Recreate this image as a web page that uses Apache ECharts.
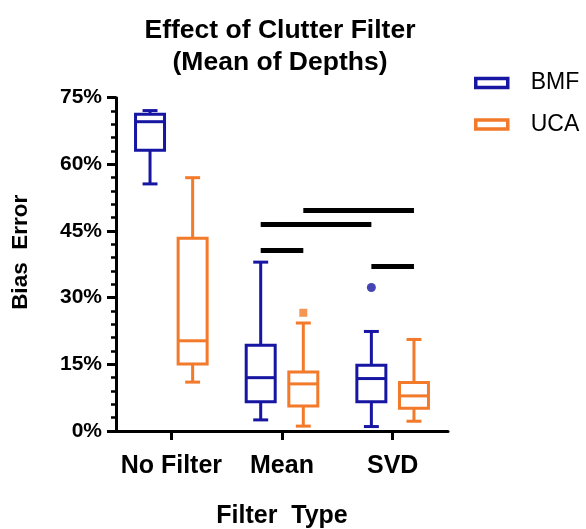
<!DOCTYPE html>
<html>
<head>
<meta charset="utf-8">
<script src="https://cdn.jsdelivr.net/npm/echarts@6/dist/echarts.min.js"></script>
<style>
  html, body { margin: 0; padding: 0; background: #fff; }
  #chart { width: 586px; height: 529px; }
</style>
</head>
<body>
<div id="chart"></div>
<script>
// data, values in %
var categories = ['No Filter', 'Mean', 'SVD'];
// [min, q1, median, q3, max] per category
var bmfBoxes = [[55.6, 63.2, 69.6, 71.3, 72.1], [2.5, 6.6, 12.0, 19.3, 38.0], [1.0, 6.6, 11.8, 14.8, 22.4]];
var ucaBoxes = [[11.0, 15.1, 20.3, 43.4, 57.0], [1.1, 5.6, 10.6, 13.3, 24.3], [2.2, 5.1, 7.9, 10.9, 20.6]];
// [category index, value]
var bmfOutliers = [[2, 32.3]];
var ucaOutliers = [[1, 26.6]];
// significance bars: [from category, from group, to category, to group, height]
var sigBars = [[1, 1, 2, 1, 49.6], [1, 0, 2, 0, 46.6], [1, 0, 1, 1, 40.6], [2, 0, 2, 1, 37.0]];
var yTicks = [0, 15, 30, 45, 60, 75];

var blue = '#1616a2';
var orange = '#f27a2a';
var groupOffset = [-0.1925, 0.1925];   // box centre offset, fraction of the band
var boxFrac = 0.262;
var capFrac = 0.135;

function boxData(boxes) {
  return boxes.map(function (b, i) { return [i].concat(b); });
}

function makeRender(group, color) {
  return function (params, api) {
    var cat = api.value(0);
    var band = api.size([1, 0])[0];
    var cx = api.coord([cat, 0])[0] + groupOffset[group] * band;
    var yMin = api.coord([cat, api.value(1)])[1];
    var yQ1 = api.coord([cat, api.value(2)])[1];
    var yMed = api.coord([cat, api.value(3)])[1];
    var yQ3 = api.coord([cat, api.value(4)])[1];
    var yMax = api.coord([cat, api.value(5)])[1];
    var hw = band * boxFrac / 2;
    var hc = band * capFrac / 2;
    var st = { stroke: color, lineWidth: 3, fill: null };
    return {
      type: 'group',
      children: [
        { type: 'rect', shape: { x: cx - hw, y: yQ3, width: hw * 2, height: yQ1 - yQ3 }, style: st },
        { type: 'line', shape: { x1: cx - hw, y1: yMed, x2: cx + hw, y2: yMed }, style: st },
        { type: 'line', shape: { x1: cx, y1: yQ3, x2: cx, y2: yMax }, style: st },
        { type: 'line', shape: { x1: cx, y1: yQ1, x2: cx, y2: yMin }, style: st },
        { type: 'line', shape: { x1: cx - hc, y1: yMax, x2: cx + hc, y2: yMax }, style: st },
        { type: 'line', shape: { x1: cx - hc, y1: yMin, x2: cx + hc, y2: yMin }, style: st }
      ]
    };
  };
}

function outlierData(list, group) {
  return list.map(function (o) { return [o[0] + 0.5 + groupOffset[group], o[1]]; });
}

var sigData = sigBars.map(function (s) {
  return { coords: [[s[0] + 0.5 + groupOffset[s[1]], s[4]], [s[2] + 0.5 + groupOffset[s[3]], s[4]]] };
});

var myChart = echarts.init(document.getElementById('chart'));
var option = {
  animation: false,
  title: {
    text: 'Effect of Clutter Filter\n(Mean of Depths)',
    left: 280,
    top: 15,
    padding: 0,
    textAlign: 'center',
    textStyle: {
      fontFamily: 'Liberation Sans',
      fontWeight: 'bold',
      fontSize: 26.5,
      lineHeight: 32,
      color: '#000'
    }
  },
  legend: {
    orient: 'vertical',
    left: 474,
    top: 71,
    padding: 0,
    itemWidth: 32,
    itemHeight: 9,
    itemGap: 17.5,
    selectedMode: false,
    textStyle: {
      fontFamily: 'Liberation Sans',
      fontSize: 23,
      lineHeight: 24,
      color: '#000',
      padding: [0, 0, 0, 18]
    },
    data: [
      { name: 'BMF', icon: 'rect', itemStyle: { color: 'rgba(0,0,0,0)', borderColor: blue, borderWidth: 3.5 } },
      { name: 'UCA', icon: 'rect', itemStyle: { color: 'rgba(0,0,0,0)', borderColor: orange, borderWidth: 3.5 } }
    ]
  },
  grid: { left: 116, right: 138, top: 97.7, bottom: 98, outerBoundsMode: 'none' },
  xAxis: [
    {
      type: 'category',
      data: categories,
      name: 'Filter  Type',
      nameLocation: 'middle',
      nameGap: 73,
      nameTextStyle: { fontFamily: 'Liberation Sans', fontWeight: 'bold', fontSize: 25, color: '#000' },
      axisLine: { lineStyle: { color: '#000', width: 3 } },
      axisTick: { show: true, alignWithLabel: true, interval: 0, length: 9, lineStyle: { color: '#000', width: 3 } },
      axisLabel: { interval: 0, hideOverlap: false, margin: 23, fontFamily: 'Liberation Sans', fontWeight: 'bold', fontSize: 25, color: '#000' },
      splitLine: { show: false }
    },
    { type: 'value', min: 0, max: 3, show: false }
  ],
  yAxis: {
    type: 'value',
    min: 0,
    max: 75,
    interval: 15,
    name: 'Bias  Error',
    nameLocation: 'middle',
    nameGap: 84,
    nameTextStyle: { fontFamily: 'Liberation Sans', fontWeight: 'bold', fontSize: 22.5, color: '#000', padding: [0, 0, 0, 24] },
    axisLine: { show: true, lineStyle: { color: '#000', width: 3 } },
    axisTick: { show: true, length: 9, lineStyle: { color: '#000', width: 3 } },
    minorTick: { show: true, splitNumber: 5, length: 5, lineStyle: { color: '#000', width: 2.5 } },
    axisLabel: {
      margin: 14,
      fontFamily: 'Liberation Sans',
      fontWeight: 'bold',
      fontSize: 21,
      color: '#000',
      formatter: function (v) { return yTicks.indexOf(v) >= 0 ? v + '%' : ''; }
    },
    splitLine: { show: false }
  },
  series: [
    { name: 'BMF', type: 'custom', renderItem: makeRender(0, blue), data: boxData(bmfBoxes), encode: { x: 0, y: [1, 2, 3, 4, 5] }, itemStyle: { color: blue }, silent: true },
    { name: 'UCA', type: 'custom', renderItem: makeRender(1, orange), data: boxData(ucaBoxes), encode: { x: 0, y: [1, 2, 3, 4, 5] }, itemStyle: { color: orange }, silent: true },
    { name: 'BMF outliers', type: 'scatter', xAxisIndex: 1, symbol: 'circle', symbolSize: 9, itemStyle: { color: blue }, data: outlierData(bmfOutliers, 0), silent: true },
    { name: 'UCA outliers', type: 'scatter', xAxisIndex: 1, symbol: 'rect', symbolSize: 8, itemStyle: { color: orange }, data: outlierData(ucaOutliers, 1), silent: true },
    { name: 'sig', type: 'lines', coordinateSystem: 'cartesian2d', xAxisIndex: 1, lineStyle: { color: '#000', width: 5, opacity: 1, cap: 'butt' }, data: sigData, silent: true }
  ]
};
myChart.setOption(option);
</script>
</body>
</html>
